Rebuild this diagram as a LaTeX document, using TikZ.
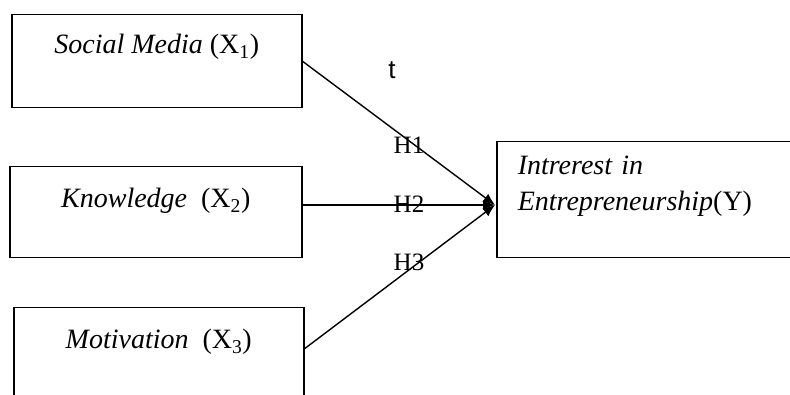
\documentclass[tikz,border=0pt]{standalone}
\usepackage{fontspec}
\setmainfont{Liberation Serif}
\newfontfamily\labelsans{Liberation Sans}
\usetikzlibrary{arrows.meta}

\begin{document}
\begin{tikzpicture}[x=1pt, y=-1pt,
    varbox/.style={draw, line width=1.5pt, inner xsep=0pt, inner ysep=0pt, minimum width=290pt,
      anchor=north west, font=\fontsize{28}{36}\selectfont},
    link/.style={line width=1.4pt, -{Latex[length=12pt,width=10pt]}},
    hyp/.style={inner sep=0pt, font=\fontsize{25}{28}\selectfont}]
  \useasboundingbox (0,0) rectangle (790,395);
  \clip (0,0) rectangle (790,395);
  % independent variables
  \node[varbox, text height=39pt, text depth=54pt] (sm) at (11,14) {\textit{Social Media} (X\textsubscript{1})};
  \node[varbox, minimum width=292pt, text height=41pt, text depth=50pt] (kn) at (9,166) {\textit{Knowledge}~ (X\textsubscript{2})};
  \node[varbox, text height=41pt, text depth=70pt] (mo) at (13,307) {\textit{Motivation}~ (X\textsubscript{3})};
  % dependent variable
  \node[varbox, minimum width=0pt, text width=272pt, align=left, inner xsep=21pt,
    text height=33pt, text depth=83pt] (iy) at (496,141) {\textit{Intrerest in}\\\textit{Entrepreneurship}(Y)};
  \coordinate (tip) at (495,205);
  \foreach \src in {sm.east, kn.east |- tip, mo.base east}
    \draw[link] (\src) -- (tip);
  \foreach \i/\yy in {1/145, 2/204, 3/262}
    \node[hyp] (h\i) at (409,\yy) {H\i};
  \node[inner sep=0pt, font=\labelsans\fontsize{26}{30}\selectfont] (t) at (392,70) {t};
\end{tikzpicture}
\end{document}
